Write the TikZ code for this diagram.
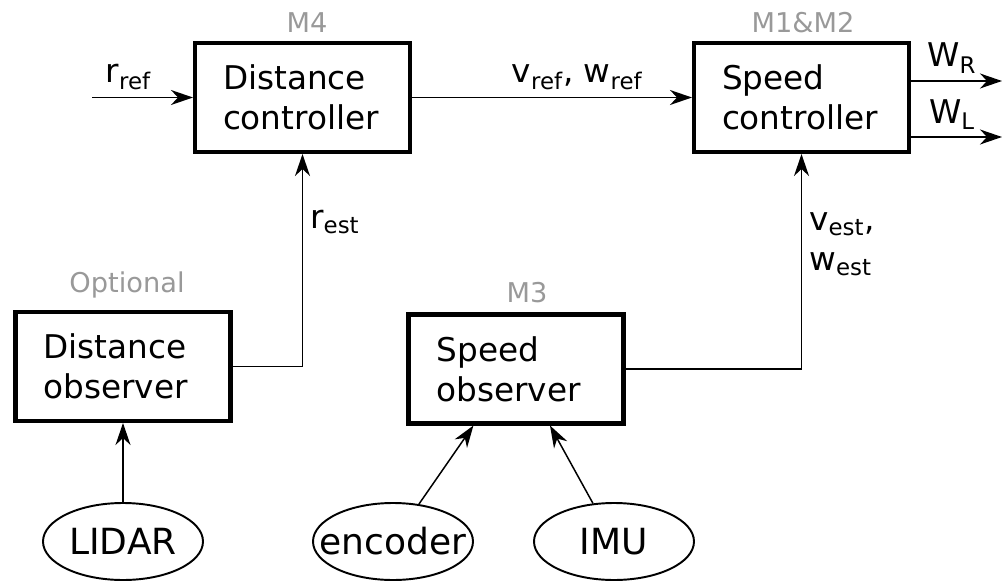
\documentclass[tikz,border=0pt]{standalone}
\usepackage{fontspec}
\setmainfont{DejaVu Sans}
\usetikzlibrary{arrows.meta,shapes.geometric,positioning}

\tikzset{
  block/.style={draw, line width=2.3pt, minimum width=4.3cm, minimum height=2.18cm,
    text width=3.18cm, align=left, inner sep=0.1cm, font=\fontsize{18.6}{22.8}\selectfont},
  sensor/.style={draw, ellipse, line width=1.1pt, minimum width=3.2cm, minimum height=1.54cm,
    inner sep=0pt, font=\fontsize{20.5}{24}\selectfont},
  wire/.style={line width=0.85pt},
  flow/.style={wire, -{Stealth[length=4.4mm,width=3mm,inset=1.4mm]}},
  tag/.style={black!40, font=\fontsize{15.5}{18}\selectfont, anchor=base},
  sig/.style={font=\fontsize{18.6}{22.8}\selectfont, inner sep=4pt},
}

\begin{document}
\begin{tikzpicture}
  \useasboundingbox (0,0) rectangle (20.04,11.6);

  % controllers on top, observers below, sensors at the bottom
  \node[block] (dc) at (6.05,9.65) {Distance\\controller};
  \node[block] (sc) at (16.03,9.65) {Speed\\controller};
  \node[block] (do) at (2.46,4.27) {Distance\\observer};
  \node[block] (so) at (10.32,4.22) {Speed\\observer};

  % the sensor words run into the ellipse border, so they get no width
  \node[sensor] (lidar) at (2.46,0.77) {\makebox[0pt]{LIDAR}};
  \node[sensor] (enc) at (7.86,0.77) {\makebox[0pt]{encoder}};
  \node[sensor] (imu) at (12.28,0.77) {\makebox[0pt]{IMU}};

  % which module runs each block
  \node[tag] (tdc) at (6.14,10.94) {M4};
  \node[tag] (tsc) at (16.06,10.94) {M1\&M2};
  \node[tag] (tdo) at (2.54,5.74) {Optional};
  \node[tag] (tso) at (10.54,5.56) {M3};

  \coordinate (rin) at (1.84,9.65);
  \coordinate (wr) at (20.04,9.98);
  \coordinate (wl) at (20.04,8.86);

  \draw[flow] (rin) -- node[sig, above, pos=0.36] {r\textsubscript{ref}} (dc);
  \draw[flow] (dc) -- node[sig, above, pos=0.59] {v\textsubscript{ref}, w\textsubscript{ref}} (sc);
  \draw[flow] (sc.east |- wr) -- node[sig, above, pos=0.45] {W\textsubscript{R}} (wr);
  \draw[flow] (sc.east |- wl) -- node[sig, above, pos=0.45] {W\textsubscript{L}} (wl);

  % feedback from the observers
  \draw[flow] (do.east) -| node[sig, right, pos=0.84] {r\textsubscript{est}} (dc.south);
  \draw[flow] (so.east) -| node[sig, right, align=left, pos=0.79]
    {v\textsubscript{est},\\w\textsubscript{est}} (sc.south);

  \draw[flow] (lidar) -- (do);
  \draw[flow] (enc) -- (so.-127);
  \draw[flow] (imu) -- (so.-59);
\end{tikzpicture}
\end{document}
